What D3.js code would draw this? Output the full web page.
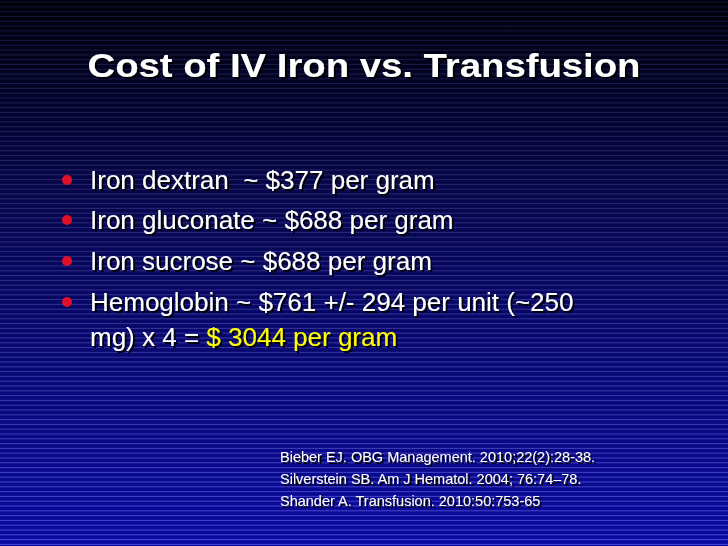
<!DOCTYPE html><html><head><meta charset="utf-8">
<script src="https://cdn.jsdelivr.net/npm/d3@7"></script>
<style>body{margin:0;background:#000} text{white-space:pre}</style></head><body>
<script>
const title = "Cost of IV Iron vs. Transfusion";
const bullets = [
  [{t:"Iron dextran  ~ $377 per gram"}],
  [{t:"Iron gluconate ~ $688 per gram"}],
  [{t:"Iron sucrose ~ $688 per gram"}],
  [{t:"Hemoglobin ~ $761 +/- 294 per unit (~250"}],
  [{t:"mg) x 4 = "},{t:"$ 3044 per gram",hl:true}]
];
const bulletFlags = [true,true,true,true,false];
const references = ["Bieber EJ. OBG Management. 2010;22(2):28-38.","Silverstein SB. Am J Hematol. 2004; 76:74–78.","Shander A. Transfusion. 2010:50:753-65"];

const W=728,H=546;
const svg=d3.select("body").append("svg").attr("width",W).attr("height",H);
const defs=svg.append("defs");
const g=defs.append("linearGradient").attr("id","bg").attr("x1",0).attr("y1",0).attr("x2",0).attr("y2",1);
g.append("stop").attr("offset","0").attr("stop-color","#000008");
g.append("stop").attr("offset","0.35").attr("stop-color","#06064a");
g.append("stop").attr("offset","1").attr("stop-color","#0a0aa0");
const f=defs.append("filter").attr("id","sh").attr("x","-5%").attr("y","-20%").attr("width","110%").attr("height","140%");
f.append("feDropShadow").attr("dx",2).attr("dy",2).attr("stdDeviation",0.6).attr("flood-color","#000").attr("flood-opacity",0.9);
svg.append("rect").attr("width",W).attr("height",H).attr("fill","url(#bg)");
const lineY=d3.range(2,H,4.8);
svg.append("g").selectAll("line").data(lineY).join("line")
 .attr("x1",0).attr("x2",W).attr("y1",d=>d).attr("y2",d=>d)
 .attr("stroke",(d)=>d3.interpolateRgb("#15153a","#4a4ad8")(d/H)).attr("stroke-width",1);
const FF="'Liberation Sans', Arial, sans-serif";
svg.append("text").attr("x",364).attr("y",77).attr("text-anchor","middle")
 .attr("font-family",FF).attr("font-weight","bold").attr("font-size",33)
 .attr("textLength",553).attr("lengthAdjust","spacingAndGlyphs")
 .attr("fill","#fff").attr("filter","url(#sh)").text(title);

const bl=[189,229,270,311,346];
bullets.forEach((segs,i)=>{
  if(bulletFlags[i]) svg.append("circle").attr("cx",67).attr("cy",bl[i]-9).attr("r",5).attr("fill","#e0102a");
  const t=svg.append("text").attr("x",90).attr("y",bl[i]).attr("font-family",FF)
   .attr("font-size",26).attr("filter","url(#sh)");
  segs.forEach(s=>t.append("tspan").attr("fill",s.hl?"#ffff00":"#fff").text(s.t));
});
svg.append("g").selectAll("text").data(references).join("text")
 .attr("x",280).attr("y",(d,i)=>462+i*22).attr("font-family",FF)
 .attr("font-size",14.5).attr("fill","#fff").attr("filter","url(#sh)").text(d=>d);
</script></body></html>
